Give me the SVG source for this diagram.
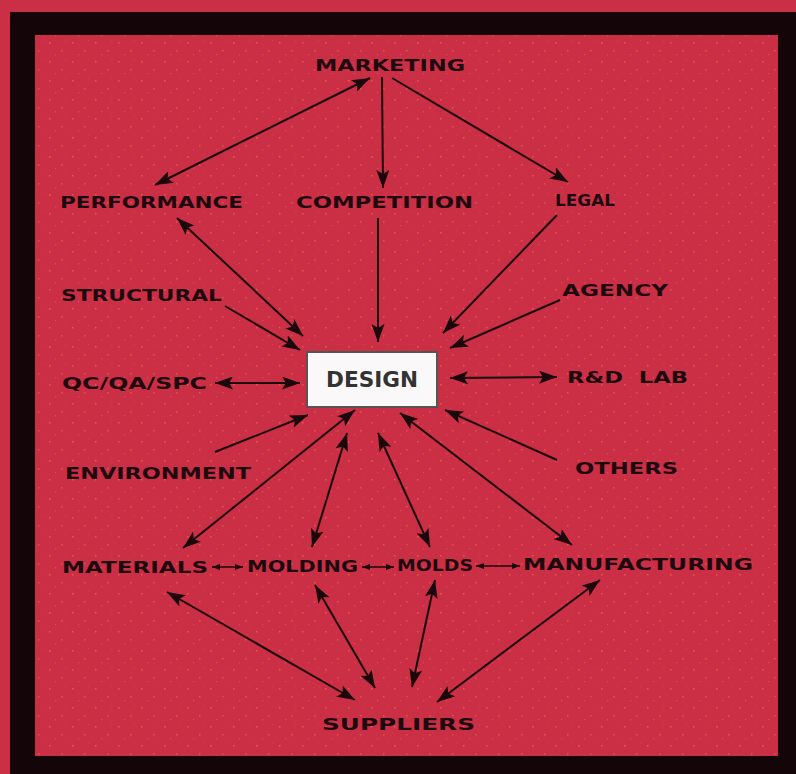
<svg xmlns="http://www.w3.org/2000/svg" width="796" height="774" viewBox="0 0 796 774">
<defs>
<style>
.lbl{font-family:"DejaVu Sans","Liberation Sans",sans-serif;font-weight:bold;font-size:15px;fill:#1e0a0e}
.ln{stroke:#1a080b;stroke-width:2;fill:none}
.bi{marker-start:url(#ah);marker-end:url(#ah)}
.one{marker-end:url(#ah)}
.sm{stroke:#1a080b;stroke-width:1.5;fill:none;marker-start:url(#sh);marker-end:url(#sh)}
</style>
<marker id="ah" viewBox="0 0 18 13" refX="18" refY="6.5" markerWidth="18" markerHeight="13" markerUnits="userSpaceOnUse" orient="auto-start-reverse">
<path d="M0,0 L18,6.5 L0,13 L4,6.5 Z" fill="#1a080b"/>
</marker>
<marker id="sh" viewBox="0 0 8 6" refX="8" refY="3" markerWidth="8" markerHeight="6" markerUnits="userSpaceOnUse" orient="auto-start-reverse">
<path d="M0,0 L8,3 L0,6 Z" fill="#1a080b"/>
</marker>
<pattern id="dots" width="23" height="19" patternUnits="userSpaceOnUse">
<rect x="3" y="4" width="1.5" height="1.5" fill="#f0703a" opacity="0.7"/>
<rect x="15" y="12" width="1.5" height="1.5" fill="#f06a40" opacity="0.6"/>
<rect x="9" y="16" width="1.2" height="1.2" fill="#ff5a8a" opacity="0.5"/>
<rect x="19" y="2" width="1.2" height="1.2" fill="#e84030" opacity="0.6"/>
</pattern>
</defs>
<rect x="0" y="0" width="796" height="774" fill="#cb2f46"/>
<rect x="10" y="12" width="786" height="762" fill="#140608"/>
<rect x="35" y="35" width="743" height="721" fill="#cb2f46"/>
<rect x="35" y="35" width="743" height="721" fill="url(#dots)"/>

<g id="connectors">
<line class="ln bi" x1="155" y1="185" x2="370" y2="78"/>
<line class="ln one" x1="382" y1="77" x2="383" y2="188"/>
<line class="ln one" x1="392" y1="78" x2="568" y2="182"/>
<line class="ln bi" x1="177" y1="218" x2="303" y2="336"/>
<line class="ln one" x1="378" y1="218" x2="378" y2="342"/>
<line class="ln one" x1="557" y1="215" x2="443" y2="333"/>
<line class="ln one" x1="225" y1="306" x2="300" y2="350"/>
<line class="ln one" x1="560" y1="300" x2="450" y2="348"/>
<line class="ln bi" x1="215" y1="383" x2="300" y2="383"/>
<line class="ln bi" x1="450" y1="378" x2="557" y2="377"/>
<line class="ln one" x1="215" y1="452" x2="308" y2="415"/>
<line class="ln one" x1="557" y1="460" x2="445" y2="410"/>
<line class="ln bi" x1="183" y1="548" x2="355" y2="410"/>
<line class="ln bi" x1="312" y1="547" x2="347" y2="433"/>
<line class="ln bi" x1="430" y1="547" x2="378" y2="433"/>
<line class="ln bi" x1="572" y1="545" x2="400" y2="413"/>
<line class="ln bi" x1="167" y1="592" x2="355" y2="700"/>
<line class="ln bi" x1="315" y1="585" x2="375" y2="688"/>
<line class="ln bi" x1="435" y1="580" x2="412" y2="687"/>
<line class="ln bi" x1="600" y1="580" x2="437" y2="702"/>
<line class="sm" x1="212" y1="567" x2="243" y2="567"/>
<line class="sm" x1="362" y1="567" x2="394" y2="567"/>
<line class="sm" x1="476" y1="566" x2="520" y2="566"/>
</g>

<g id="marketing"><text class="lbl" x="315" y="71" textLength="150" lengthAdjust="spacingAndGlyphs">MARKETING</text></g>
<g id="performance"><text class="lbl" x="60" y="208" textLength="183" lengthAdjust="spacingAndGlyphs">PERFORMANCE</text></g>
<g id="competition"><text class="lbl" x="296" y="208" textLength="177" lengthAdjust="spacingAndGlyphs">COMPETITION</text></g>
<g id="legal"><text class="lbl" x="555" y="206" textLength="60" lengthAdjust="spacingAndGlyphs">LEGAL</text></g>
<g id="structural"><text class="lbl" x="61" y="301" textLength="161" lengthAdjust="spacingAndGlyphs">STRUCTURAL</text></g>
<g id="agency"><text class="lbl" x="562" y="296" textLength="106" lengthAdjust="spacingAndGlyphs">AGENCY</text></g>
<g id="qc"><text class="lbl" x="62" y="389" textLength="145" lengthAdjust="spacingAndGlyphs">QC/QA/SPC</text></g>
<g id="design">
<rect x="307" y="352" width="130" height="55" fill="#fbf8fa" stroke="#555" stroke-width="2"/>
<text x="372" y="387" text-anchor="middle" font-family="DejaVu Sans,Liberation Sans,sans-serif" font-weight="bold" font-size="21" fill="#333" textLength="92" lengthAdjust="spacingAndGlyphs">DESIGN</text>
</g>
<g id="rdlab"><text class="lbl" x="567" y="383" textLength="121" lengthAdjust="spacingAndGlyphs" xml:space="preserve">R&amp;D  LAB</text></g>
<g id="environment"><text class="lbl" x="65" y="479" textLength="186" lengthAdjust="spacingAndGlyphs">ENVIRONMENT</text></g>
<g id="others"><text class="lbl" x="575" y="474" textLength="103" lengthAdjust="spacingAndGlyphs">OTHERS</text></g>
<g id="materials"><text class="lbl" x="62" y="573" textLength="146" lengthAdjust="spacingAndGlyphs">MATERIALS</text></g>
<g id="molding"><text class="lbl" x="247" y="572" textLength="111" lengthAdjust="spacingAndGlyphs">MOLDING</text></g>
<g id="molds"><text class="lbl" x="397" y="571" textLength="76" lengthAdjust="spacingAndGlyphs">MOLDS</text></g>
<g id="manufacturing"><text class="lbl" x="523" y="570" textLength="230" lengthAdjust="spacingAndGlyphs">MANUFACTURING</text></g>
<g id="suppliers"><text class="lbl" x="322" y="730" textLength="153" lengthAdjust="spacingAndGlyphs">SUPPLIERS</text></g>
</svg>
